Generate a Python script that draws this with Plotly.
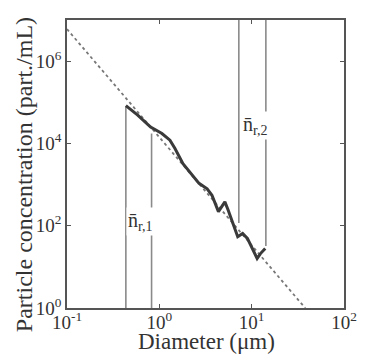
import math
import plotly.graph_objects as go

# measured size distribution (diameter in um, concentration in part./mL)
diam = [0.434, 0.583, 0.804, 1.067, 1.303, 1.472, 1.803, 2.113, 2.692, 3.296,
        3.715, 4.365, 5.129, 5.559, 6.266, 7.063, 7.980, 8.995, 11.46, 12.45, 14.03]
conc = [8.3e4, 4.9e4, 2.5e4, 1.74e4, 1.2e4, 7.6e3, 3.2e3, 2.04e3, 1.07e3, 7.9e2,
        5.5e2, 2.2e2, 3.8e2, 2.4e2, 1.12e2, 5.4e1, 6.5e1, 4.9e1, 1.6e1, 2.1e1, 2.8e1]

# power-law fit line end points
fit_d = [0.1, 38.0]
fit_n = [6.0e6, 1.0]

# bin edge lines: x position, bottom, top
edge_x = [0.434, 0.824, 7.26, 14.25]
edge_lo = [1.0, 1.0, 117.0, 32.0]
edge_hi = [7.8e4, 1.74e4, 1.0e7, 1.0e7]

labels = ["n\u0304<sub>r,1</sub>", "n\u0304<sub>r,2</sub>"]
label_x = [0.62, 11.0]
label_y = [130.0, 2.7e4]

x_tickvals = [0.1, 1, 10, 100]
x_ticktext = ["10<sup>-1</sup>", "10<sup>0</sup>", "10<sup>1</sup>", "10<sup>2</sup>"]
y_tickvals = [1, 1e2, 1e4, 1e6]
y_ticktext = ["10<sup>0</sup>", "10<sup>2</sup>", "10<sup>4</sup>", "10<sup>6</sup>"]

x_title = "Diameter (\u03bcm)"
y_title = "Particle concentration (part./mL)"

FONT = "Liberation Serif"
TXT = "#333333"

fig = go.Figure()
for xe, lo, hi in zip(edge_x, edge_lo, edge_hi):
    fig.add_trace(go.Scatter(x=[xe, xe], y=[lo, hi], mode="lines",
                             line=dict(color="#8a8a8a", width=1.6),
                             showlegend=False, hoverinfo="skip"))
fig.add_trace(go.Scatter(x=fit_d, y=fit_n, mode="lines",
                         line=dict(color="#777777", width=1.8, dash="dot"),
                         showlegend=False))
fig.add_trace(go.Scatter(x=diam, y=conc, mode="lines",
                         line=dict(color="#3a3a3a", width=3),
                         showlegend=False))

for t, xa, ya in zip(labels, label_x, label_y):
    fig.add_annotation(x=math.log10(xa), y=math.log10(ya),
                       text=t, showarrow=False, bgcolor="white",
                       font=dict(family=FONT, size=20, color=TXT),
                       borderpad=1)

# axis titles
fig.add_annotation(xref="paper", yref="paper", x=0.5035, y=-0.117,
                   xanchor="center", yanchor="middle", showarrow=False,
                   text=x_title, font=dict(family=FONT, size=23, color=TXT))
fig.add_annotation(xref="paper", yref="paper", x=-0.157, y=0.463,
                   xanchor="center", yanchor="middle", showarrow=False,
                   textangle=-90,
                   text=y_title, font=dict(family=FONT, size=24, color=TXT))

axis_common = dict(type="log", showline=True, linecolor="#555555", linewidth=1.5,
                   mirror="ticks", ticks="inside", ticklen=4, tickcolor="#555555",
                   tickwidth=1.2, showgrid=False, zeroline=False,
                   tickfont=dict(family=FONT, size=19, color=TXT))

fig.update_xaxes(range=[-1, 2], tickvals=x_tickvals, ticktext=x_ticktext,
                 ticklabelstandoff=-4, **axis_common)
fig.update_yaxes(range=[0, 7], tickvals=y_tickvals, ticktext=y_ticktext,
                 **axis_common)

fig.update_layout(width=369, height=361, plot_bgcolor="white", paper_bgcolor="white",
                  margin=dict(l=67, r=16, t=20, b=53))

fig.write_html("out.html", config={"displayModeBar": False},
               post_script="document.body.style.margin='0';")
